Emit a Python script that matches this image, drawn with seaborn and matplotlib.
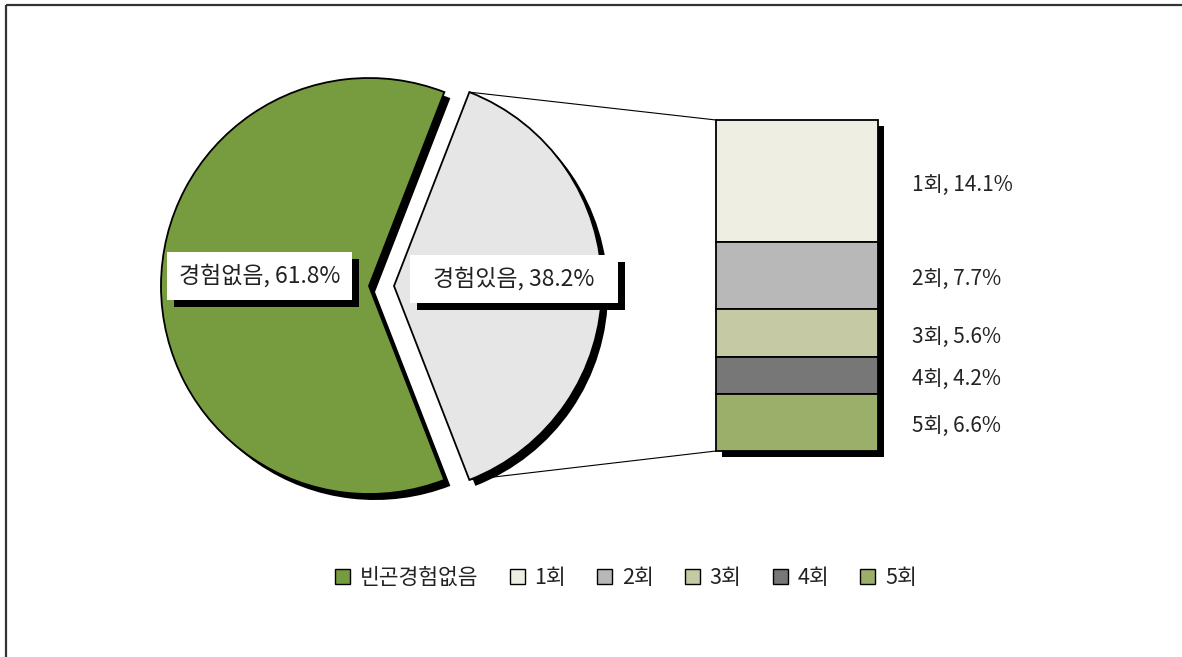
import numpy as np
import matplotlib
matplotlib.use("Agg")
import matplotlib.pyplot as plt
import matplotlib.patheffects as pe
from matplotlib.patches import Rectangle, Patch, ConnectionPatch
import seaborn as sns

# ---- data ----
pie_labels = ["경험있음", "경험없음"]
pie_values = [38.2, 61.8]
bar_labels = ["1회", "2회", "3회", "4회", "5회"]
bar_values = [14.1, 7.7, 5.6, 4.2, 6.6]
legend_labels = ["빈곤경험없음", "1회", "2회", "3회", "4회", "5회"]

pie_colors = ["#E6E6E6", "#779B3F"]
bar_colors = ["#EEEEE2", "#B8B8B8", "#C5CAA5", "#777777", "#9BAF6B"]

sns.set_style("white")
plt.rcParams['font.family'] = ['Noto Sans CJK KR', 'DejaVu Sans']

W, H = 1182, 657
fig = plt.figure(figsize=(W / 100, H / 100), dpi=100)
ax = fig.add_axes([0, 0, 1, 1])

def shadow_fx(px):
    pt = px * 0.72
    return [pe.SimplePatchShadow(offset=(pt, -pt), shadow_rgbFace='black', alpha=1.0), pe.Normal()]

start = -pie_values[0] * 360 / 100 / 2
wedges, _ = ax.pie(pie_values, colors=pie_colors, startangle=start,
                   explode=[25, 0], radius=208, center=(369, 371), frame=True,
                   wedgeprops=dict(edgecolor='black', linewidth=1.3))
for w in wedges:
    w.set_path_effects(shadow_fx(6))
ax.set_xlim(0, W)
ax.set_ylim(0, H)
ax.set_aspect('auto')
ax.axis('off')

# ---- stacked bar ----
bax = fig.add_axes([716 / W, (H - 451) / H, 162 / W, 331 / H])
total = sum(bar_values)
bottoms = np.concatenate([[0], np.cumsum(bar_values)[:-1]])
bg = bax.bar(0, total, width=1, color='black', zorder=1, clip_on=False)
bg[0].set_path_effects([pe.SimplePatchShadow(offset=(4.3, -4.3), shadow_rgbFace='black', alpha=1.0)])
bars = bax.bar(np.zeros(len(bar_values)), bar_values, bottom=bottoms, width=1,
               color=bar_colors, edgecolor='black', linewidth=1.3, zorder=2, clip_on=False)
bax.set_xlim(-0.5, 0.5)
bax.set_ylim(total, 0)
bax.axis('off')

for lab, v, b in zip(bar_labels, bar_values, bottoms):
    bax.annotate(f"{lab}, {v}%", xy=(0.5, b + v / 2), xycoords='data',
                 xytext=(34 * 0.72, -2.5), textcoords='offset points',
                 va='center', ha='left', fontsize=15, color='#222222')

# ---- connector lines ----
w = wedges[0]
cx, cy = w.center
r = w.r
for theta, yb in [(w.theta2, 0), (w.theta1, total)]:
    xa = cx + r * np.cos(np.deg2rad(theta))
    ya = cy + r * np.sin(np.deg2rad(theta))
    con = ConnectionPatch(xyA=(-0.5, yb), coordsA=bax.transData,
                          xyB=(xa, ya), coordsB=ax.transData,
                          color='black', lw=0.8)
    fig.add_artist(con)

# ---- pie labels ----
box_specs = [
    (f"{pie_labels[1]}, {pie_values[1]}%", (167, 357, 185, 48)),
    (f"{pie_labels[0]}, {pie_values[0]}%", (410, 354, 208, 48)),
]
for txt, (x0, y0, bw, bh) in box_specs:
    rect = Rectangle((x0, y0), bw, bh, facecolor='white', edgecolor='none', zorder=5)
    rect.set_path_effects(shadow_fx(7))
    ax.add_patch(rect)
    ax.text(x0 + bw / 2, y0 + bh / 2, txt, ha='center', va='center',
            fontsize=16.5, color='#222222', zorder=6)

# ---- frame ----
ax.plot([6, 6], [-10, H - 5], color='#333333', lw=1.6, solid_capstyle='butt')
ax.plot([6, W + 10], [H - 5, H - 5], color='#333333', lw=1.6, solid_capstyle='butt')

# ---- legend ----
handles = [Patch(facecolor=c, edgecolor='black', linewidth=1.0)
           for c in [pie_colors[1]] + bar_colors]
fig.legend(handles, legend_labels, loc='center', bbox_to_anchor=(626 / W, 1 - 578 / H),
           ncol=6, frameon=False, fontsize=15.5, handlelength=0.7, handleheight=0.7,
           handletextpad=0.45, columnspacing=1.45, labelcolor='#222222')

fig.savefig("out.png", dpi=100)
